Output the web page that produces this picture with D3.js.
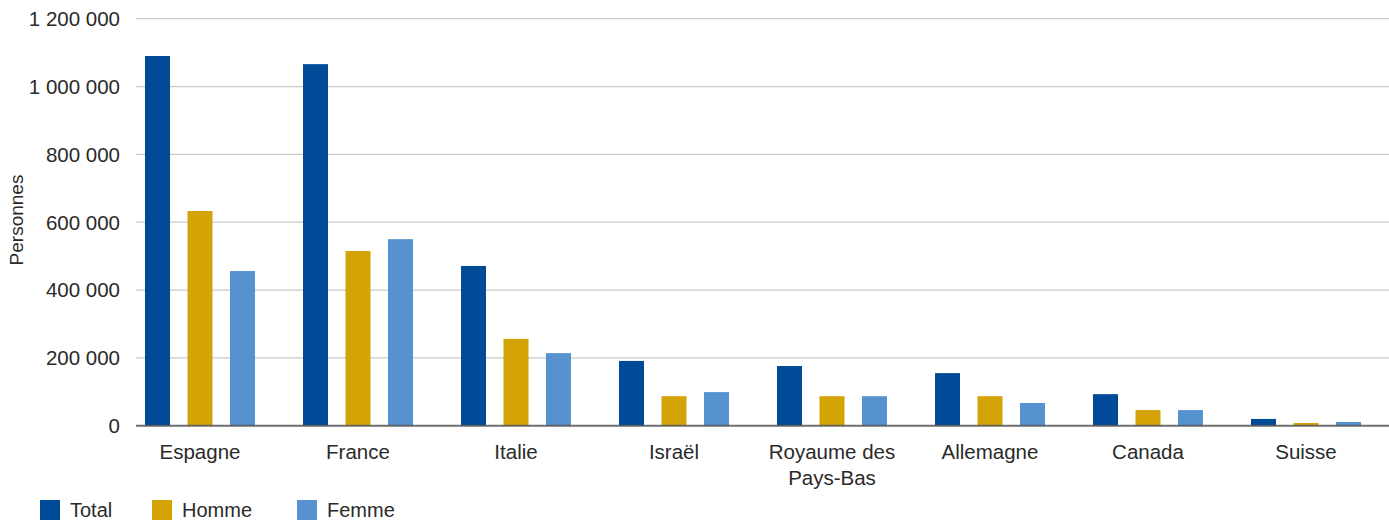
<!DOCTYPE html>
<html>
<head>
<meta charset="utf-8">
<script src="https://cdn.jsdelivr.net/npm/d3@7"></script>
<style>
  html, body { margin: 0; padding: 0; background: #fff; }
  svg { display: block; }
  text { font-family: "Liberation Sans", Arial, sans-serif; fill: #2a2a2a; }
</style>
</head>
<body>
<svg id="chart" width="1389" height="521"></svg>
<script>
// Country labels (line breaks marked with \n)
const categories = ["Espagne", "France", "Italie", "Israël", "Royaume des\nPays-Bas", "Allemagne", "Canada", "Suisse"];
const seriesNames = ["Total", "Homme", "Femme"];
const totalValues = [1090000, 1066000, 471000, 191000, 176000, 155000, 93000, 20000];
const hommeValues = [633000, 515000, 256000, 87000, 87000, 87000, 46000, 8000];
const femmeValues = [456000, 550000, 214000, 99000, 87000, 67000, 46000, 11000];
const yTicks = [0, 200000, 400000, 600000, 800000, 1000000, 1200000];
const colors = ["#014a98", "#d4a406", "#5592cf"];

const seriesValues = [totalValues, hommeValues, femmeValues];
const rows = categories.map((c, i) => ({
  cat: c,
  vals: seriesNames.map((s, j) => ({ key: s, value: seriesValues[j][i] }))
}));

const svg = d3.select("#chart");
const plotLeft = 136, plotRight = 1389, yBottom = 425.7, yTop = 18.7;

const x0 = d3.scaleBand().domain(categories).range([121, 1385]).paddingInner(0).paddingOuter(0);
const x1 = d3.scaleBand().domain(seriesNames).range([24, 134]).paddingInner(0.4118).paddingOuter(0);
const y = d3.scaleLinear().domain([0, 1200000]).range([yBottom, yTop]);

const fmt = v => d3.format(",")(v).replace(/,/g, " ");

// Horizontal grid lines
svg.append("g").selectAll("line").data(yTicks.filter(t => t > 0)).join("line")
  .attr("x1", plotLeft).attr("x2", plotRight)
  .attr("y1", d => y(d)).attr("y2", d => y(d))
  .attr("stroke", "#c9c9c9").attr("stroke-width", 1.2);

// Y tick labels
svg.append("g").selectAll("text").data(yTicks).join("text")
  .attr("x", 120).attr("y", d => y(d))
  .attr("dy", "0.36em")
  .attr("text-anchor", "end")
  .style("font-size", "20.5px")
  .text(fmt);

// Y axis title
svg.append("text")
  .attr("transform", `translate(23, 220) rotate(-90)`)
  .attr("text-anchor", "middle")
  .style("font-size", "19px")
  .text("Personnes");

// Bars
const groups = svg.append("g").selectAll("g").data(rows).join("g")
  .attr("transform", d => `translate(${x0(d.cat)},0)`);
groups.selectAll("rect").data(d => d.vals).join("rect")
  .attr("x", d => x1(d.key))
  .attr("width", x1.bandwidth())
  .attr("y", d => y(d.value))
  .attr("height", d => y(0) - y(d.value))
  .attr("fill", (d, i) => colors[i]);

// Baseline
svg.append("line")
  .attr("x1", plotLeft).attr("x2", plotRight)
  .attr("y1", y(0)).attr("y2", y(0))
  .attr("stroke", "#555").attr("stroke-width", 2).attr("opacity", 0.85);

// Category labels
const catLabels = svg.append("g").selectAll("text").data(categories).join("text")
  .attr("text-anchor", "middle")
  .attr("x", d => x0(d) + x0.bandwidth() / 2)
  .attr("y", 459)
  .style("font-size", "20.5px");
catLabels.each(function(d) {
  const t = d3.select(this);
  d.split("\n").forEach((line, i) => {
    t.append("tspan")
      .attr("x", x0(d) + x0.bandwidth() / 2)
      .attr("dy", i === 0 ? 0 : 26)
      .text(line);
  });
});

// Legend
const legendX = [40, 152, 297];
const legend = svg.append("g").selectAll("g").data(seriesNames).join("g")
  .attr("transform", (d, i) => `translate(${legendX[i]}, 500)`);
legend.append("rect").attr("width", 20).attr("height", 20).attr("fill", (d, i) => colors[i]);
legend.append("text").attr("x", 30).attr("y", 10).attr("dy", "0.36em")
  .style("font-size", "20px").text(d => d);
</script>
</body>
</html>
